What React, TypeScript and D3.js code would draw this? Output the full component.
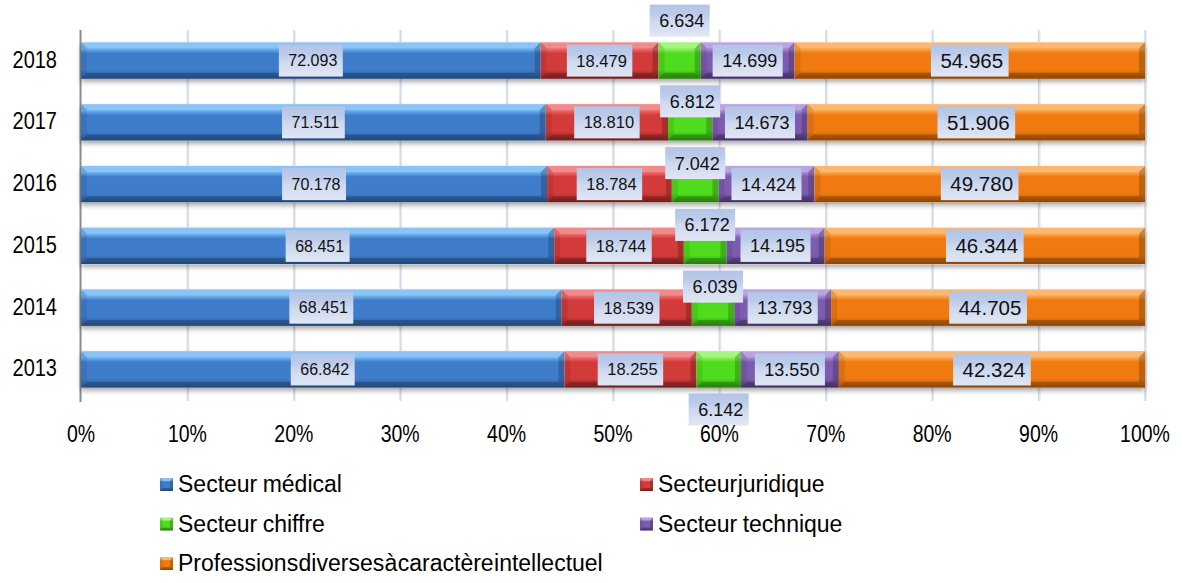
import React from "react";
import * as d3 from "d3";

const years = ["2018", "2017", "2016", "2015", "2014", "2013"];
const medical = [72.093, 71.511, 70.178, 68.451, 68.451, 66.842];
const juridique = [18.479, 18.81, 18.784, 18.744, 18.539, 18.255];
const chiffre = [6.634, 6.812, 7.042, 6.172, 6.039, 6.142];
const technique = [14.699, 14.673, 14.424, 14.195, 13.793, 13.55];
const diverses = [54.965, 51.906, 49.78, 46.344, 44.705, 42.324];
const seriesNames = [
  "Secteur médical",
  "Secteur juridique",
  "Secteur chiffre",
  "Secteur technique",
  "Professions diverses à caractère intellectuel",
];
const xTicks = [0, 0.1, 0.2, 0.3, 0.4, 0.5, 0.6, 0.7, 0.8, 0.9, 1];
// where Excel put the small "Secteur chiffre" labels
const chiffrePlacement = ["above", "top", "top", "top", "top", "below"];

const allSeries = [medical, juridique, chiffre, technique, diverses];

const COLORS = [
  { light: "#6cb2f2", base: "#3f7dcb", dark: "#2b5c9c" },
  { light: "#ee6b6b", base: "#d33a3a", dark: "#962525" },
  { light: "#8cf25e", base: "#4fdc1e", dark: "#33a010" },
  { light: "#a888d8", base: "#7d5cb0", dark: "#563d80" },
  { light: "#fba54a", base: "#f07a10", dark: "#b85a06" },
];
const LABEL_FONT = [16, 16.5, 18, 18, 20.5];
const FONT = "'Liberation Sans', Arial, sans-serif";

let canvasCtx: CanvasRenderingContext2D | null = null;
function textWidth(t: string, size: number) {
  if (!canvasCtx) canvasCtx = document.createElement("canvas").getContext("2d");
  canvasCtx!.font = `${size}px 'Liberation Sans', Arial, sans-serif`;
  return canvasCtx!.measureText(t).width;
}

function bevel(x0: number, x1: number, y0: number, y1: number, b: number, key: string) {
  const bb = Math.min(b, (x1 - x0) / 2);
  return (
    <g key={key}>
      <polygon points={`${x0},${y0} ${x1},${y0} ${x1 - bb},${y0 + b} ${x0 + bb},${y0 + b}`} fill="#fff" opacity={0.22} />
      <polygon points={`${x0},${y1} ${x1},${y1} ${x1 - bb},${y1 - b} ${x0 + bb},${y1 - b}`} fill="#000" opacity={0.22} />
      <polygon points={`${x0},${y0} ${x0 + bb},${y0 + b} ${x0 + bb},${y1 - b} ${x0},${y1}`} fill="#000" opacity={0.08} />
      <polygon points={`${x1},${y0} ${x1 - bb},${y0 + b} ${x1 - bb},${y1 - b} ${x1},${y1}`} fill="#000" opacity={0.2} />
    </g>
  );
}

export default function App() {
  const W = 1182, H = 583;
  const x = d3.scaleLinear().domain([0, 1]).range([81, 1145]);
  const y = d3.scaleBand().domain(years).range([30, 400]).paddingInner(0.41).paddingOuter(0.2);
  const fmtPct = d3.format(".0%");
  const fmtVal = d3.format(".3f");

  const rows = years.map((yr, i) => {
    const vals = allSeries.map((s) => s[i]);
    const total = d3.sum(vals);
    const stack = d3.cumsum(vals);
    return vals.map((v, k) => ({
      yr, i, k, v,
      f0: (stack[k] - v) / total,
      f1: stack[k] / total,
    }));
  });

  const bh = y.bandwidth();
  const labelH = 32;

  return (
    <svg width={W} height={H} style={{ position: "absolute", left: 0, top: 0, background: "#fff" }} fontFamily={FONT}>
      <defs>
        {COLORS.map((c, k) => (
          <linearGradient key={k} id={`g${k}`} x1="0" y1="0" x2="0" y2="1">
            <stop offset="0" stopColor={c.light} />
            <stop offset="0.18" stopColor={c.light} />
            <stop offset="0.3" stopColor={c.base} />
            <stop offset="0.75" stopColor={c.base} />
            <stop offset="1" stopColor={c.dark} />
          </linearGradient>
        ))}
        <linearGradient id="lab" x1="0" y1="0" x2="0" y2="1">
          <stop offset="0" stopColor="#b2c4e6" />
          <stop offset="0.3" stopColor="#bccbea" />
          <stop offset="0.5" stopColor="#cdd8ef" />
          <stop offset="1" stopColor="#e0e6f4" />
        </linearGradient>
        <filter id="sh" x="-5%" y="-30%" width="110%" height="170%">
          <feDropShadow dx="0" dy="3" stdDeviation="2.5" floodColor="#000" floodOpacity="0.35" />
        </filter>
      </defs>

      {/* gridlines */}
      {xTicks.slice(1).map((t) => (
        <g key={t}>
          <line x1={x(t) + 1} x2={x(t) + 1} y1={30} y2={401} stroke="#e6eaf0" strokeWidth={2} />
          <line x1={x(t)} x2={x(t)} y1={30} y2={401} stroke="#d3dae4" strokeWidth={1.5} />
        </g>
      ))}
      <line x1={80.5} x2={80.5} y1={30} y2={402} stroke="#8a8a8a" strokeWidth={2} />

      {/* bars */}
      {rows.map((segs) => {
        const yr = segs[0].yr;
        const y0 = y(yr)!;
        return (
          <g key={yr}>
            <rect x={x(0)} y={y0} width={x(1) - x(0)} height={bh} fill="#fff" filter="url(#sh)" />
            {segs.map((s) => {
              const a = x(s.f0), b = x(s.f1);
              return (
                <g key={s.k}>
                  <rect x={a} y={y0} width={b - a} height={bh} fill={`url(#g${s.k})`} />
                  {bevel(a, b, y0, y0 + bh, 6, "b" + s.k)}
                </g>
              );
            })}
          </g>
        );
      })}

      {/* data labels */}
      {rows.map((segs) =>
        segs.map((s) => {
          const txt = fmtVal(s.v);
          const fs = LABEL_FONT[s.k];
          const tw = textWidth(txt, fs);
          const bw = tw + 15;
          const cx = (x(s.f0) + x(s.f1)) / 2;
          const yc = y(s.yr)! + bh / 2;
          let cy = yc;
          if (s.k === 2) {
            const p = chiffrePlacement[s.i];
            if (p === "above") cy = yc - 40;
            else if (p === "below") cy = yc + 40;
            else cy = yc - 21;
          }
          return (
            <g key={s.yr + s.k}>
              <rect x={cx - bw / 2} y={cy - labelH / 2} width={bw} height={labelH} fill="url(#lab)" />
              <text x={cx + 2} y={cy + fs * 0.36} textAnchor="middle" fontSize={fs} fill="#111">
                {txt}
              </text>
            </g>
          );
        })
      )}

      {/* y axis labels */}
      {years.map((yr) => (
        <text key={yr} transform={`translate(57,${y(yr)! + bh / 2 + 7}) scale(1,1.2)`} textAnchor="end" fontSize={20} fill="#000">
          {yr}
        </text>
      ))}

      {/* x axis labels */}
      {xTicks.map((t) => (
        <text key={t} transform={`translate(${x(t)},442) scale(1,1.2)`} textAnchor="middle" fontSize={19.5} fill="#000">
          {fmtPct(t)}
        </text>
      ))}

      {/* legend */}
      {seriesNames.map((n, k) => {
        const col = k % 2;
        const row = Math.floor(k / 2);
        const lx = col === 0 ? 160 : 640;
        const ly = 484 + row * 39.5;
        return (
          <g key={n}>
            <rect x={lx} y={ly - 6} width={13} height={13} fill={`url(#g${k})`} />
            {bevel(lx, lx + 13, ly - 6, ly + 7, 3, "l" + k)}
            <text x={lx + 18} y={ly + 8} fontSize={23} fill="#000" wordSpacing={k === 4 || k === 1 ? -6 : -1}>
              {n}
            </text>
          </g>
        );
      })}
    </svg>
  );
}
